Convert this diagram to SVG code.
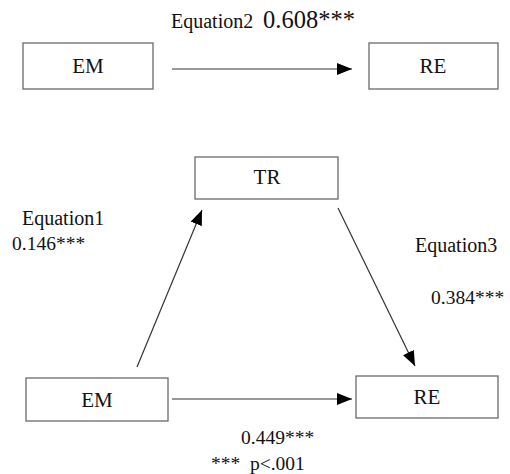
<svg xmlns="http://www.w3.org/2000/svg" width="510" height="474" viewBox="0 0 510 474">
<style>
.box{fill:#fff;stroke:#6a6a6a;stroke-width:1.3}
.lbl{font-family:"Liberation Serif","Times New Roman",serif;font-size:21px;fill:#111;text-anchor:middle}
.t{font-family:"Liberation Serif","Times New Roman",serif;font-size:19.5px;fill:#111}
.eq{font-size:20px}
.big{font-size:24.5px}
.c{stroke:#333;stroke-width:1.2;fill:none;marker-end:url(#ah)}
</style>
<defs>
<marker id="ah" viewBox="0 0 15 12" refX="15" refY="6" markerWidth="15" markerHeight="12" markerUnits="userSpaceOnUse" orient="auto">
<path d="M0,0 L15,6 L0,12 Z" fill="#000"/>
</marker>
</defs>
<rect width="510" height="474" fill="#fff"/>
<g id="connectors">
<line class="c" x1="172" y1="69" x2="352" y2="69"/>
<line class="c" x1="137" y1="367" x2="202" y2="210"/>
<line class="c" x1="338" y1="208" x2="415" y2="366"/>
<line class="c" x1="172" y1="399" x2="352" y2="399"/>
</g>
<g id="em-top"><rect class="box" x="23" y="43" width="130" height="46"/><text class="lbl" x="88" y="73">EM</text></g>
<g id="re-top"><rect class="box" x="369" y="43" width="129" height="46"/><text class="lbl" x="433" y="73">RE</text></g>
<g id="tr"><rect class="box" x="195" y="157" width="143" height="42"/><text class="lbl" x="267" y="184">TR</text></g>
<g id="em-bottom"><rect class="box" x="26" y="378" width="142" height="43"/><text class="lbl" x="97" y="407">EM</text></g>
<g id="re-bottom"><rect class="box" x="356" y="376" width="142" height="42"/><text class="lbl" x="427" y="404">RE</text></g>
<g id="labels">
<text class="t eq" x="171" y="28">Equation2</text>
<text class="t big" x="263" y="28">0.608***</text>
<text class="t eq" x="22" y="225">Equation1</text>
<text class="t" x="12" y="250">0.146***</text>
<text class="t eq" x="415" y="252">Equation3</text>
<text class="t" x="431" y="304">0.384***</text>
<text class="t" x="241" y="444">0.449***</text>
<text class="t"><tspan x="211" y="470">***</tspan><tspan x="250" y="470">p&lt;.001</tspan></text>
</g>
</svg>
